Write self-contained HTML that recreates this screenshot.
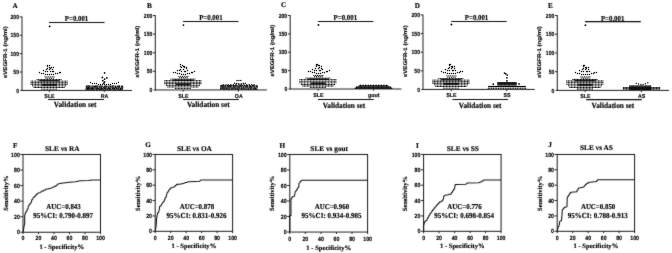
<!DOCTYPE html>
<html><head><meta charset="utf-8"><title>Figure</title>
<style>
html,body{margin:0;padding:0;background:#fff;}
body{width:672px;height:253px;overflow:hidden;font-family:"Liberation Sans",sans-serif;}
svg{display:block;}
.se{font-family:"Liberation Serif",serif;font-weight:bold;}
.sa{font-family:"Liberation Sans",sans-serif;font-weight:bold;}
text{fill:#000;text-rendering:geometricPrecision;stroke:#000;stroke-width:0.16px;stroke-linejoin:round;}
line,path,rect{stroke:#111;}
</style></head><body>
<svg width="672" height="253" viewBox="0 0 672 253">
<defs><filter id="b" filterUnits="userSpaceOnUse" x="-10" y="-10" width="692" height="273"><feConvolveMatrix order="3" kernelMatrix="0.015 0.065 0.015 0.065 0.6799999999999999 0.065 0.015 0.065 0.015" divisor="1" edgeMode="duplicate" preserveAlpha="false"/></filter><filter id="b2" filterUnits="userSpaceOnUse" x="-10" y="-10" width="692" height="273"><feConvolveMatrix order="3" kernelMatrix="0.008 0.04 0.008 0.04 0.8079999999999999 0.04 0.008 0.04 0.008" divisor="1" edgeMode="duplicate" preserveAlpha="false"/></filter></defs>
<rect x="0" y="0" width="672" height="253" style="fill:#fff;stroke:none"/>
<g filter="url(#b)">
<line x1="22.00" y1="16.60" x2="22.00" y2="90.95" stroke-width="0.95"/>
<line x1="20.40" y1="90.45" x2="132.00" y2="90.45" stroke-width="0.95"/>
<text class="sa" transform="translate(19.00 92.55) scale(0.86 1.0)" font-size="5.9" text-anchor="end">0</text>
<line x1="19.70" y1="72.06" x2="22.00" y2="72.06" stroke-width="0.9"/>
<text class="sa" transform="translate(19.00 74.16) scale(0.86 1.0)" font-size="5.9" text-anchor="end">50</text>
<line x1="19.70" y1="53.67" x2="22.00" y2="53.67" stroke-width="0.9"/>
<text class="sa" transform="translate(19.00 55.77) scale(0.86 1.0)" font-size="5.9" text-anchor="end">100</text>
<line x1="19.70" y1="35.29" x2="22.00" y2="35.29" stroke-width="0.9"/>
<text class="sa" transform="translate(19.00 37.39) scale(0.86 1.0)" font-size="5.9" text-anchor="end">150</text>
<line x1="19.70" y1="16.90" x2="22.00" y2="16.90" stroke-width="0.9"/>
<text class="sa" transform="translate(19.00 19.00) scale(0.86 1.0)" font-size="5.9" text-anchor="end">200</text>
<line x1="49.40" y1="90.45" x2="49.40" y2="92.15" stroke-width="0.9"/>
<line x1="104.30" y1="90.45" x2="104.30" y2="92.15" stroke-width="0.9"/>
<text class="sa" transform="translate(49.50 98.25) scale(0.95 1.0)" font-size="5.6" text-anchor="middle">SLE</text>
<text class="sa" transform="translate(104.60 98.25) scale(0.94 1.0)" font-size="5.6" text-anchor="middle">RA</text>
<text class="sa" transform="translate(6.70 52.15) rotate(-90) scale(1.155 1.0)" font-size="5.3" text-anchor="middle">sVEGFR-1 (ng/ml)</text>
<line x1="49.00" y1="22.45" x2="104.60" y2="22.45" stroke-width="1.1"/>
<text class="se" transform="translate(76.55 21.15) scale(0.9 1.0)" font-size="7.6" text-anchor="middle">P=0.001</text>
<line x1="48.10" y1="99.45" x2="104.00" y2="99.45" stroke-width="1.1"/>
<text class="se" transform="translate(75.15 107.00) scale(0.915 1.0)" font-size="8.0" text-anchor="middle">Validation set</text>
<line x1="39.20" y1="80.65" x2="59.40" y2="80.65" stroke-width="1.6"/>
<line x1="42.00" y1="84.85" x2="56.80" y2="84.85" stroke-width="2.0"/>
<line x1="155.30" y1="15.20" x2="155.30" y2="90.45" stroke-width="0.95"/>
<line x1="153.70" y1="89.95" x2="267.00" y2="89.95" stroke-width="0.95"/>
<text class="sa" transform="translate(152.30 92.05) scale(0.86 1.0)" font-size="5.9" text-anchor="end">0</text>
<line x1="153.00" y1="71.34" x2="155.30" y2="71.34" stroke-width="0.9"/>
<text class="sa" transform="translate(152.30 73.44) scale(0.86 1.0)" font-size="5.9" text-anchor="end">50</text>
<line x1="153.00" y1="52.73" x2="155.30" y2="52.73" stroke-width="0.9"/>
<text class="sa" transform="translate(152.30 54.83) scale(0.86 1.0)" font-size="5.9" text-anchor="end">100</text>
<line x1="153.00" y1="34.11" x2="155.30" y2="34.11" stroke-width="0.9"/>
<text class="sa" transform="translate(152.30 36.21) scale(0.86 1.0)" font-size="5.9" text-anchor="end">150</text>
<line x1="153.00" y1="15.50" x2="155.30" y2="15.50" stroke-width="0.9"/>
<text class="sa" transform="translate(152.30 17.60) scale(0.86 1.0)" font-size="5.9" text-anchor="end">200</text>
<line x1="183.20" y1="89.95" x2="183.20" y2="91.65" stroke-width="0.9"/>
<line x1="238.50" y1="89.95" x2="238.50" y2="91.65" stroke-width="0.9"/>
<text class="sa" transform="translate(183.30 97.75) scale(0.95 1.0)" font-size="5.6" text-anchor="middle">SLE</text>
<text class="sa" transform="translate(238.80 97.75) scale(0.94 1.0)" font-size="5.6" text-anchor="middle">OA</text>
<text class="sa" transform="translate(139.20 51.65) rotate(-90) scale(1.155 1.0)" font-size="5.3" text-anchor="middle">sVEGFR-1 (ng/ml)</text>
<line x1="183.00" y1="21.45" x2="238.50" y2="21.45" stroke-width="1.1"/>
<text class="se" transform="translate(210.90 20.15) scale(0.9 1.0)" font-size="7.6" text-anchor="middle">P=0.001</text>
<line x1="183.00" y1="99.50" x2="238.80" y2="99.50" stroke-width="1.1"/>
<text class="se" transform="translate(208.30 107.30) scale(0.915 1.0)" font-size="8.0" text-anchor="middle">Validation set</text>
<line x1="173.00" y1="80.15" x2="193.20" y2="80.15" stroke-width="1.6"/>
<line x1="175.80" y1="84.35" x2="190.60" y2="84.35" stroke-width="2.0"/>
<line x1="290.20" y1="15.20" x2="290.20" y2="89.50" stroke-width="0.95"/>
<line x1="288.60" y1="89.00" x2="401.40" y2="89.00" stroke-width="0.95"/>
<text class="sa" transform="translate(287.20 91.10) scale(0.86 1.0)" font-size="5.9" text-anchor="end">0</text>
<line x1="287.90" y1="70.62" x2="290.20" y2="70.62" stroke-width="0.9"/>
<text class="sa" transform="translate(287.20 72.72) scale(0.86 1.0)" font-size="5.9" text-anchor="end">50</text>
<line x1="287.90" y1="52.25" x2="290.20" y2="52.25" stroke-width="0.9"/>
<text class="sa" transform="translate(287.20 54.35) scale(0.86 1.0)" font-size="5.9" text-anchor="end">100</text>
<line x1="287.90" y1="33.88" x2="290.20" y2="33.88" stroke-width="0.9"/>
<text class="sa" transform="translate(287.20 35.98) scale(0.86 1.0)" font-size="5.9" text-anchor="end">150</text>
<line x1="287.90" y1="15.50" x2="290.20" y2="15.50" stroke-width="0.9"/>
<text class="sa" transform="translate(287.20 17.60) scale(0.86 1.0)" font-size="5.9" text-anchor="end">200</text>
<line x1="318.20" y1="89.00" x2="318.20" y2="90.70" stroke-width="0.9"/>
<line x1="373.50" y1="89.00" x2="373.50" y2="90.70" stroke-width="0.9"/>
<text class="sa" transform="translate(318.30 96.80) scale(0.95 1.0)" font-size="5.6" text-anchor="middle">SLE</text>
<text class="sa" transform="translate(373.80 96.80) scale(0.94 1.0)" font-size="5.6" text-anchor="middle">gout</text>
<text class="sa" transform="translate(274.10 50.70) rotate(-90) scale(1.155 1.0)" font-size="5.3" text-anchor="middle">sVEGFR-1 (ng/ml)</text>
<line x1="318.00" y1="21.45" x2="373.50" y2="21.45" stroke-width="1.1"/>
<text class="se" transform="translate(345.35 20.15) scale(0.9 1.0)" font-size="7.6" text-anchor="middle">P=0.001</text>
<line x1="318.00" y1="99.50" x2="373.80" y2="99.50" stroke-width="1.1"/>
<text class="se" transform="translate(343.95 107.50) scale(0.915 1.0)" font-size="8.0" text-anchor="middle">Validation set</text>
<line x1="308.00" y1="79.20" x2="328.20" y2="79.20" stroke-width="1.6"/>
<line x1="310.80" y1="83.40" x2="325.60" y2="83.40" stroke-width="2.0"/>
<line x1="423.00" y1="14.60" x2="423.00" y2="89.95" stroke-width="0.95"/>
<line x1="421.40" y1="89.45" x2="534.80" y2="89.45" stroke-width="0.95"/>
<text class="sa" transform="translate(420.00 91.55) scale(0.86 1.0)" font-size="5.9" text-anchor="end">0</text>
<line x1="420.70" y1="70.81" x2="423.00" y2="70.81" stroke-width="0.9"/>
<text class="sa" transform="translate(420.00 72.91) scale(0.86 1.0)" font-size="5.9" text-anchor="end">50</text>
<line x1="420.70" y1="52.18" x2="423.00" y2="52.18" stroke-width="0.9"/>
<text class="sa" transform="translate(420.00 54.28) scale(0.86 1.0)" font-size="5.9" text-anchor="end">100</text>
<line x1="420.70" y1="33.54" x2="423.00" y2="33.54" stroke-width="0.9"/>
<text class="sa" transform="translate(420.00 35.64) scale(0.86 1.0)" font-size="5.9" text-anchor="end">150</text>
<line x1="420.70" y1="14.90" x2="423.00" y2="14.90" stroke-width="0.9"/>
<text class="sa" transform="translate(420.00 17.00) scale(0.86 1.0)" font-size="5.9" text-anchor="end">200</text>
<line x1="451.20" y1="89.45" x2="451.20" y2="91.15" stroke-width="0.9"/>
<line x1="506.80" y1="89.45" x2="506.80" y2="91.15" stroke-width="0.9"/>
<text class="sa" transform="translate(451.30 97.25) scale(0.95 1.0)" font-size="5.6" text-anchor="middle">SLE</text>
<text class="sa" transform="translate(507.10 97.25) scale(0.94 1.0)" font-size="5.6" text-anchor="middle">SS</text>
<text class="sa" transform="translate(406.60 51.15) rotate(-90) scale(1.155 1.0)" font-size="5.3" text-anchor="middle">sVEGFR-1 (ng/ml)</text>
<line x1="451.20" y1="21.45" x2="506.70" y2="21.45" stroke-width="1.1"/>
<text class="se" transform="translate(476.55 20.15) scale(0.9 1.0)" font-size="7.6" text-anchor="middle">P=0.001</text>
<line x1="452.40" y1="99.50" x2="508.10" y2="99.50" stroke-width="1.1"/>
<text class="se" transform="translate(480.15 107.50) scale(0.915 1.0)" font-size="8.0" text-anchor="middle">Validation set</text>
<line x1="441.00" y1="79.65" x2="461.20" y2="79.65" stroke-width="1.6"/>
<line x1="443.80" y1="83.85" x2="458.60" y2="83.85" stroke-width="2.0"/>
<line x1="557.30" y1="15.20" x2="557.30" y2="90.90" stroke-width="0.95"/>
<line x1="555.70" y1="90.40" x2="669.10" y2="90.40" stroke-width="0.95"/>
<text class="sa" transform="translate(554.30 92.50) scale(0.86 1.0)" font-size="5.9" text-anchor="end">0</text>
<line x1="555.00" y1="71.68" x2="557.30" y2="71.68" stroke-width="0.9"/>
<text class="sa" transform="translate(554.30 73.78) scale(0.86 1.0)" font-size="5.9" text-anchor="end">50</text>
<line x1="555.00" y1="52.95" x2="557.30" y2="52.95" stroke-width="0.9"/>
<text class="sa" transform="translate(554.30 55.05) scale(0.86 1.0)" font-size="5.9" text-anchor="end">100</text>
<line x1="555.00" y1="34.22" x2="557.30" y2="34.22" stroke-width="0.9"/>
<text class="sa" transform="translate(554.30 36.32) scale(0.86 1.0)" font-size="5.9" text-anchor="end">150</text>
<line x1="555.00" y1="15.50" x2="557.30" y2="15.50" stroke-width="0.9"/>
<text class="sa" transform="translate(554.30 17.60) scale(0.86 1.0)" font-size="5.9" text-anchor="end">200</text>
<line x1="585.20" y1="90.40" x2="585.20" y2="92.10" stroke-width="0.9"/>
<line x1="641.40" y1="90.40" x2="641.40" y2="92.10" stroke-width="0.9"/>
<text class="sa" transform="translate(585.30 98.20) scale(0.95 1.0)" font-size="5.6" text-anchor="middle">SLE</text>
<text class="sa" transform="translate(641.70 98.20) scale(0.94 1.0)" font-size="5.6" text-anchor="middle">AS</text>
<text class="sa" transform="translate(541.20 52.10) rotate(-90) scale(1.155 1.0)" font-size="5.3" text-anchor="middle">sVEGFR-1 (ng/ml)</text>
<line x1="585.00" y1="21.62" x2="640.80" y2="21.62" stroke-width="1.35"/>
<text class="se" transform="translate(612.65 21.10) scale(0.9 1.0)" font-size="7.6" text-anchor="middle">P=0.001</text>
<line x1="586.20" y1="99.60" x2="641.80" y2="99.60" stroke-width="1.1"/>
<text class="se" transform="translate(612.90 107.50) scale(0.915 1.0)" font-size="8.0" text-anchor="middle">Validation set</text>
<line x1="575.00" y1="80.60" x2="595.20" y2="80.60" stroke-width="1.6"/>
<line x1="577.80" y1="84.80" x2="592.60" y2="84.80" stroke-width="2.0"/>
<text class="se" x="15.10" y="7.70" font-size="7.2" text-anchor="middle">A</text>
<text class="se" x="149.50" y="7.70" font-size="7.2" text-anchor="middle">B</text>
<text class="se" x="283.60" y="7.40" font-size="7.2" text-anchor="middle">C</text>
<text class="se" x="417.30" y="7.70" font-size="7.2" text-anchor="middle">D</text>
<text class="se" x="550.30" y="7.70" font-size="7.2" text-anchor="middle">E</text>
<rect x="23.00" y="154.45" width="77.50" height="77.80" fill="none" stroke-width="0.95"/>
<line x1="20.30" y1="232.25" x2="23.00" y2="232.25" stroke-width="0.9"/>
<text class="sa" transform="translate(19.80 234.35) scale(0.87 1.0)" font-size="6.0" text-anchor="end">0</text>
<line x1="23.00" y1="232.25" x2="23.00" y2="234.15" stroke-width="0.9"/>
<text class="sa" transform="translate(23.00 240.40) scale(0.87 1.0)" font-size="6.0" text-anchor="middle">0</text>
<line x1="20.30" y1="216.69" x2="23.00" y2="216.69" stroke-width="0.9"/>
<text class="sa" transform="translate(19.80 218.79) scale(0.87 1.0)" font-size="6.0" text-anchor="end">20</text>
<line x1="38.50" y1="232.25" x2="38.50" y2="234.15" stroke-width="0.9"/>
<text class="sa" transform="translate(38.50 240.40) scale(0.87 1.0)" font-size="6.0" text-anchor="middle">20</text>
<line x1="20.30" y1="201.13" x2="23.00" y2="201.13" stroke-width="0.9"/>
<text class="sa" transform="translate(19.80 203.23) scale(0.87 1.0)" font-size="6.0" text-anchor="end">40</text>
<line x1="54.00" y1="232.25" x2="54.00" y2="234.15" stroke-width="0.9"/>
<text class="sa" transform="translate(54.00 240.40) scale(0.87 1.0)" font-size="6.0" text-anchor="middle">40</text>
<line x1="20.30" y1="185.57" x2="23.00" y2="185.57" stroke-width="0.9"/>
<text class="sa" transform="translate(19.80 187.67) scale(0.87 1.0)" font-size="6.0" text-anchor="end">60</text>
<line x1="69.50" y1="232.25" x2="69.50" y2="234.15" stroke-width="0.9"/>
<text class="sa" transform="translate(69.50 240.40) scale(0.87 1.0)" font-size="6.0" text-anchor="middle">60</text>
<line x1="20.30" y1="170.01" x2="23.00" y2="170.01" stroke-width="0.9"/>
<text class="sa" transform="translate(19.80 172.11) scale(0.87 1.0)" font-size="6.0" text-anchor="end">80</text>
<line x1="85.00" y1="232.25" x2="85.00" y2="234.15" stroke-width="0.9"/>
<text class="sa" transform="translate(85.00 240.40) scale(0.87 1.0)" font-size="6.0" text-anchor="middle">80</text>
<line x1="20.30" y1="154.45" x2="23.00" y2="154.45" stroke-width="0.9"/>
<text class="sa" transform="translate(19.80 156.55) scale(0.87 1.0)" font-size="6.0" text-anchor="end">100</text>
<line x1="100.50" y1="232.25" x2="100.50" y2="234.15" stroke-width="0.9"/>
<text class="sa" transform="translate(100.50 240.40) scale(0.87 1.0)" font-size="6.0" text-anchor="middle">100</text>
<text class="se" x="62.25" y="150.90" font-size="7.3" text-anchor="middle">SLE vs RA</text>
<text class="se" transform="translate(63.55 209.20) scale(0.92 1.0)" font-size="7.5" text-anchor="middle">AUC=0.843</text>
<text class="se" transform="translate(63.15 217.70) scale(0.92 1.0)" font-size="7.65" text-anchor="middle">95%CI: 0.790-0.897</text>
<text class="se" x="61.75" y="249.15" font-size="6.6" text-anchor="middle">1 - Specificity%</text>
<text class="se" transform="translate(7.50 193.10) rotate(-90)" font-size="6.45" text-anchor="middle">Sensitivity%</text>
<text class="se" x="15.20" y="148.10" font-size="7.2" text-anchor="middle">F</text>
<path d="M23.00 232.25 L23.46 229.92 L23.93 226.80 L24.70 223.23 L24.70 215.52 L25.64 212.49 L25.79 211.96 L26.25 211.87 L26.41 211.34 L26.88 211.24 L27.17 209.33 L28.04 208.99 L28.33 205.88 L29.20 205.33 L29.42 204.34 L30.09 204.16 L30.31 203.17 L30.98 203.00 L31.60 201.05 L31.90 199.53 L32.80 199.26 L33.10 197.74 L34.00 197.47 L34.30 196.46 L35.19 196.28 L35.49 195.27 L36.38 195.09 L36.68 194.07 L37.57 193.89 L38.15 192.90 L39.89 192.73 L40.34 191.97 L41.68 191.83 L42.12 191.07 L43.46 190.94 L43.98 190.08 L45.55 189.93 L46.08 189.07 L47.64 188.92 L51.75 187.98 L52.28 187.22 L53.84 187.09 L54.37 186.33 L55.94 186.19 L56.31 185.17 L57.41 184.99 L57.78 183.96 L58.88 183.78 L61.28 183.24 L69.58 182.22 L75.54 181.76 L80.27 180.82 L88.64 180.51 L92.13 180.05 L100.50 180.05" fill="none" stroke-width="1.05" stroke-linejoin="round"/>
<rect x="155.20" y="154.45" width="77.40" height="76.85" fill="none" stroke-width="0.95"/>
<line x1="152.50" y1="231.30" x2="155.20" y2="231.30" stroke-width="0.9"/>
<text class="sa" transform="translate(152.00 233.40) scale(0.87 1.0)" font-size="6.0" text-anchor="end">0</text>
<line x1="155.20" y1="231.30" x2="155.20" y2="233.20" stroke-width="0.9"/>
<text class="sa" transform="translate(155.20 239.61) scale(0.87 1.0)" font-size="6.0" text-anchor="middle">0</text>
<line x1="152.50" y1="215.93" x2="155.20" y2="215.93" stroke-width="0.9"/>
<text class="sa" transform="translate(152.00 218.03) scale(0.87 1.0)" font-size="6.0" text-anchor="end">20</text>
<line x1="170.68" y1="231.30" x2="170.68" y2="233.20" stroke-width="0.9"/>
<text class="sa" transform="translate(170.68 239.61) scale(0.87 1.0)" font-size="6.0" text-anchor="middle">20</text>
<line x1="152.50" y1="200.56" x2="155.20" y2="200.56" stroke-width="0.9"/>
<text class="sa" transform="translate(152.00 202.66) scale(0.87 1.0)" font-size="6.0" text-anchor="end">40</text>
<line x1="186.16" y1="231.30" x2="186.16" y2="233.20" stroke-width="0.9"/>
<text class="sa" transform="translate(186.16 239.61) scale(0.87 1.0)" font-size="6.0" text-anchor="middle">40</text>
<line x1="152.50" y1="185.19" x2="155.20" y2="185.19" stroke-width="0.9"/>
<text class="sa" transform="translate(152.00 187.29) scale(0.87 1.0)" font-size="6.0" text-anchor="end">60</text>
<line x1="201.64" y1="231.30" x2="201.64" y2="233.20" stroke-width="0.9"/>
<text class="sa" transform="translate(201.64 239.61) scale(0.87 1.0)" font-size="6.0" text-anchor="middle">60</text>
<line x1="152.50" y1="169.82" x2="155.20" y2="169.82" stroke-width="0.9"/>
<text class="sa" transform="translate(152.00 171.92) scale(0.87 1.0)" font-size="6.0" text-anchor="end">80</text>
<line x1="217.12" y1="231.30" x2="217.12" y2="233.20" stroke-width="0.9"/>
<text class="sa" transform="translate(217.12 239.61) scale(0.87 1.0)" font-size="6.0" text-anchor="middle">80</text>
<line x1="152.50" y1="154.45" x2="155.20" y2="154.45" stroke-width="0.9"/>
<text class="sa" transform="translate(152.00 156.55) scale(0.87 1.0)" font-size="6.0" text-anchor="end">100</text>
<line x1="232.60" y1="231.30" x2="232.60" y2="233.20" stroke-width="0.9"/>
<text class="sa" transform="translate(232.60 239.61) scale(0.87 1.0)" font-size="6.0" text-anchor="middle">100</text>
<text class="se" x="194.40" y="150.90" font-size="7.3" text-anchor="middle">SLE vs OA</text>
<text class="se" transform="translate(196.90 209.20) scale(0.92 1.0)" font-size="7.5" text-anchor="middle">AUC=0.878</text>
<text class="se" transform="translate(196.50 217.70) scale(0.92 1.0)" font-size="7.65" text-anchor="middle">95%CI: 0.831-0.926</text>
<text class="se" x="193.90" y="248.40" font-size="6.6" text-anchor="middle">1 - Specificity%</text>
<text class="se" transform="translate(139.70 193.40) rotate(-90)" font-size="6.45" text-anchor="middle">Sensitivity%</text>
<text class="se" x="148.00" y="147.20" font-size="7.2" text-anchor="middle">G</text>
<path d="M155.20 231.30 L156.13 225.61 L156.59 218.54 L157.29 214.93 L157.60 212.91 L158.53 212.55 L159.38 209.01 L159.67 206.47 L160.54 206.02 L161.39 205.25 L162.32 203.02 L162.54 202.43 L163.21 202.33 L163.43 201.74 L164.10 201.64 L164.32 199.87 L164.99 199.56 L165.21 197.80 L165.88 197.49 L166.89 193.95 L167.11 192.78 L167.76 192.57 L167.98 191.39 L168.64 191.18 L168.86 190.01 L169.52 189.80 L169.82 188.85 L170.72 188.69 L171.02 187.74 L171.92 187.57 L174.78 186.80 L175.09 185.63 L176.02 185.42 L176.91 184.38 L179.58 184.19 L184.38 183.19 L185.05 182.57 L187.05 182.46 L187.72 181.84 L189.72 181.73 L199.78 181.19 L200.25 180.15 L201.64 179.96 L232.60 179.96" fill="none" stroke-width="1.05" stroke-linejoin="round"/>
<rect x="289.80" y="154.45" width="77.80" height="77.60" fill="none" stroke-width="0.95"/>
<line x1="287.10" y1="232.05" x2="289.80" y2="232.05" stroke-width="0.9"/>
<text class="sa" transform="translate(286.60 234.15) scale(0.87 1.0)" font-size="6.0" text-anchor="end">0</text>
<line x1="289.80" y1="232.05" x2="289.80" y2="233.95" stroke-width="0.9"/>
<text class="sa" transform="translate(289.80 240.68) scale(0.87 1.0)" font-size="6.0" text-anchor="middle">0</text>
<line x1="287.10" y1="216.53" x2="289.80" y2="216.53" stroke-width="0.9"/>
<text class="sa" transform="translate(286.60 218.63) scale(0.87 1.0)" font-size="6.0" text-anchor="end">20</text>
<line x1="305.36" y1="232.05" x2="305.36" y2="233.95" stroke-width="0.9"/>
<text class="sa" transform="translate(305.36 240.68) scale(0.87 1.0)" font-size="6.0" text-anchor="middle">20</text>
<line x1="287.10" y1="201.01" x2="289.80" y2="201.01" stroke-width="0.9"/>
<text class="sa" transform="translate(286.60 203.11) scale(0.87 1.0)" font-size="6.0" text-anchor="end">40</text>
<line x1="320.92" y1="232.05" x2="320.92" y2="233.95" stroke-width="0.9"/>
<text class="sa" transform="translate(320.92 240.68) scale(0.87 1.0)" font-size="6.0" text-anchor="middle">40</text>
<line x1="287.10" y1="185.49" x2="289.80" y2="185.49" stroke-width="0.9"/>
<text class="sa" transform="translate(286.60 187.59) scale(0.87 1.0)" font-size="6.0" text-anchor="end">60</text>
<line x1="336.48" y1="232.05" x2="336.48" y2="233.95" stroke-width="0.9"/>
<text class="sa" transform="translate(336.48 240.68) scale(0.87 1.0)" font-size="6.0" text-anchor="middle">60</text>
<line x1="287.10" y1="169.97" x2="289.80" y2="169.97" stroke-width="0.9"/>
<text class="sa" transform="translate(286.60 172.07) scale(0.87 1.0)" font-size="6.0" text-anchor="end">80</text>
<line x1="352.04" y1="232.05" x2="352.04" y2="233.95" stroke-width="0.9"/>
<text class="sa" transform="translate(352.04 240.68) scale(0.87 1.0)" font-size="6.0" text-anchor="middle">80</text>
<line x1="287.10" y1="154.45" x2="289.80" y2="154.45" stroke-width="0.9"/>
<text class="sa" transform="translate(286.60 156.55) scale(0.87 1.0)" font-size="6.0" text-anchor="end">100</text>
<line x1="367.60" y1="232.05" x2="367.60" y2="233.95" stroke-width="0.9"/>
<text class="sa" transform="translate(367.60 240.68) scale(0.87 1.0)" font-size="6.0" text-anchor="middle">100</text>
<text class="se" x="329.20" y="150.90" font-size="7.3" text-anchor="middle">SLE vs gout</text>
<text class="se" transform="translate(331.90 209.20) scale(0.92 1.0)" font-size="7.5" text-anchor="middle">AUC=0.960</text>
<text class="se" transform="translate(331.50 217.70) scale(0.92 1.0)" font-size="7.65" text-anchor="middle">95%CI: 0.934-0.985</text>
<text class="se" x="328.70" y="249.55" font-size="6.6" text-anchor="middle">1 - Specificity%</text>
<text class="se" transform="translate(274.30 193.40) rotate(-90)" font-size="6.45" text-anchor="middle">Sensitivity%</text>
<text class="se" x="282.40" y="147.80" font-size="7.2" text-anchor="middle">H</text>
<path d="M289.80 232.05 L289.80 215.52 L290.97 215.52 L290.97 199.85 L291.12 198.82 L291.59 198.64 L291.75 197.62 L292.21 197.44 L292.78 196.45 L294.47 196.28 L295.09 192.78 L295.39 191.27 L296.30 191.00 L296.60 189.48 L297.50 189.21 L297.79 187.70 L298.67 187.43 L298.98 183.34 L299.91 182.62 L300.18 181.63 L300.96 181.45 L301.23 180.47 L302.01 180.29 L367.60 180.29" fill="none" stroke-width="1.05" stroke-linejoin="round"/>
<rect x="423.60" y="154.45" width="77.50" height="76.85" fill="none" stroke-width="0.95"/>
<line x1="420.90" y1="231.30" x2="423.60" y2="231.30" stroke-width="0.9"/>
<text class="sa" transform="translate(420.40 233.40) scale(0.87 1.0)" font-size="6.0" text-anchor="end">0</text>
<line x1="423.60" y1="231.30" x2="423.60" y2="233.20" stroke-width="0.9"/>
<text class="sa" transform="translate(423.60 239.61) scale(0.87 1.0)" font-size="6.0" text-anchor="middle">0</text>
<line x1="420.90" y1="215.93" x2="423.60" y2="215.93" stroke-width="0.9"/>
<text class="sa" transform="translate(420.40 218.03) scale(0.87 1.0)" font-size="6.0" text-anchor="end">20</text>
<line x1="439.10" y1="231.30" x2="439.10" y2="233.20" stroke-width="0.9"/>
<text class="sa" transform="translate(439.10 239.61) scale(0.87 1.0)" font-size="6.0" text-anchor="middle">20</text>
<line x1="420.90" y1="200.56" x2="423.60" y2="200.56" stroke-width="0.9"/>
<text class="sa" transform="translate(420.40 202.66) scale(0.87 1.0)" font-size="6.0" text-anchor="end">40</text>
<line x1="454.60" y1="231.30" x2="454.60" y2="233.20" stroke-width="0.9"/>
<text class="sa" transform="translate(454.60 239.61) scale(0.87 1.0)" font-size="6.0" text-anchor="middle">40</text>
<line x1="420.90" y1="185.19" x2="423.60" y2="185.19" stroke-width="0.9"/>
<text class="sa" transform="translate(420.40 187.29) scale(0.87 1.0)" font-size="6.0" text-anchor="end">60</text>
<line x1="470.10" y1="231.30" x2="470.10" y2="233.20" stroke-width="0.9"/>
<text class="sa" transform="translate(470.10 239.61) scale(0.87 1.0)" font-size="6.0" text-anchor="middle">60</text>
<line x1="420.90" y1="169.82" x2="423.60" y2="169.82" stroke-width="0.9"/>
<text class="sa" transform="translate(420.40 171.92) scale(0.87 1.0)" font-size="6.0" text-anchor="end">80</text>
<line x1="485.60" y1="231.30" x2="485.60" y2="233.20" stroke-width="0.9"/>
<text class="sa" transform="translate(485.60 239.61) scale(0.87 1.0)" font-size="6.0" text-anchor="middle">80</text>
<line x1="420.90" y1="154.45" x2="423.60" y2="154.45" stroke-width="0.9"/>
<text class="sa" transform="translate(420.40 156.55) scale(0.87 1.0)" font-size="6.0" text-anchor="end">100</text>
<line x1="501.10" y1="231.30" x2="501.10" y2="233.20" stroke-width="0.9"/>
<text class="sa" transform="translate(501.10 239.61) scale(0.87 1.0)" font-size="6.0" text-anchor="middle">100</text>
<text class="se" x="462.85" y="150.90" font-size="7.3" text-anchor="middle">SLE vs SS</text>
<text class="se" transform="translate(464.55 209.20) scale(0.92 1.0)" font-size="7.5" text-anchor="middle">AUC=0.776</text>
<text class="se" transform="translate(464.15 217.70) scale(0.92 1.0)" font-size="7.65" text-anchor="middle">95%CI: 0.698-0.854</text>
<text class="se" x="462.35" y="248.40" font-size="6.6" text-anchor="middle">1 - Specificity%</text>
<text class="se" transform="translate(407.00 193.70) rotate(-90)" font-size="6.45" text-anchor="middle">Sensitivity%</text>
<text class="se" x="417.30" y="147.80" font-size="7.2" text-anchor="middle">I</text>
<path d="M423.60 231.30 L423.60 225.92 L424.38 222.62 L424.68 221.64 L425.58 221.46 L425.88 220.48 L426.78 220.31 L427.00 219.04 L427.67 218.81 L427.89 217.54 L428.56 217.31 L428.86 215.55 L429.76 215.24 L430.06 213.47 L430.96 213.16 L431.21 211.99 L431.94 211.78 L432.19 210.60 L432.93 210.40 L433.17 209.22 L433.91 209.01 L434.15 208.06 L434.89 207.89 L435.13 206.93 L435.87 206.76 L436.12 205.80 L436.85 205.63 L437.15 204.46 L438.05 204.25 L438.35 203.07 L439.25 202.87 L439.62 202.08 L440.73 201.94 L441.10 201.16 L442.20 201.02 L442.36 200.27 L442.82 200.14 L442.98 199.39 L443.44 199.25 L443.73 196.25 L444.60 195.72 L445.43 195.07 L447.90 194.95 L448.72 194.30 L451.19 194.18 L451.48 192.48 L452.35 192.18 L452.60 190.91 L453.36 190.68 L453.61 189.41 L454.37 189.19 L455.38 184.42 L466.07 184.19 L466.29 183.67 L466.96 183.58 L467.18 183.05 L467.85 182.96 L478.55 182.65 L481.57 181.81 L481.94 181.06 L483.04 180.92 L483.41 180.17 L484.51 180.04 L501.10 180.04" fill="none" stroke-width="1.05" stroke-linejoin="round"/>
<rect x="557.20" y="154.45" width="77.40" height="76.85" fill="none" stroke-width="0.95"/>
<line x1="554.50" y1="231.30" x2="557.20" y2="231.30" stroke-width="0.9"/>
<text class="sa" transform="translate(554.00 233.40) scale(0.87 1.0)" font-size="6.0" text-anchor="end">0</text>
<line x1="557.20" y1="231.30" x2="557.20" y2="233.20" stroke-width="0.9"/>
<text class="sa" transform="translate(557.20 239.61) scale(0.87 1.0)" font-size="6.0" text-anchor="middle">0</text>
<line x1="554.50" y1="215.93" x2="557.20" y2="215.93" stroke-width="0.9"/>
<text class="sa" transform="translate(554.00 218.03) scale(0.87 1.0)" font-size="6.0" text-anchor="end">20</text>
<line x1="572.68" y1="231.30" x2="572.68" y2="233.20" stroke-width="0.9"/>
<text class="sa" transform="translate(572.68 239.61) scale(0.87 1.0)" font-size="6.0" text-anchor="middle">20</text>
<line x1="554.50" y1="200.56" x2="557.20" y2="200.56" stroke-width="0.9"/>
<text class="sa" transform="translate(554.00 202.66) scale(0.87 1.0)" font-size="6.0" text-anchor="end">40</text>
<line x1="588.16" y1="231.30" x2="588.16" y2="233.20" stroke-width="0.9"/>
<text class="sa" transform="translate(588.16 239.61) scale(0.87 1.0)" font-size="6.0" text-anchor="middle">40</text>
<line x1="554.50" y1="185.19" x2="557.20" y2="185.19" stroke-width="0.9"/>
<text class="sa" transform="translate(554.00 187.29) scale(0.87 1.0)" font-size="6.0" text-anchor="end">60</text>
<line x1="603.64" y1="231.30" x2="603.64" y2="233.20" stroke-width="0.9"/>
<text class="sa" transform="translate(603.64 239.61) scale(0.87 1.0)" font-size="6.0" text-anchor="middle">60</text>
<line x1="554.50" y1="169.82" x2="557.20" y2="169.82" stroke-width="0.9"/>
<text class="sa" transform="translate(554.00 171.92) scale(0.87 1.0)" font-size="6.0" text-anchor="end">80</text>
<line x1="619.12" y1="231.30" x2="619.12" y2="233.20" stroke-width="0.9"/>
<text class="sa" transform="translate(619.12 239.61) scale(0.87 1.0)" font-size="6.0" text-anchor="middle">80</text>
<line x1="554.50" y1="154.45" x2="557.20" y2="154.45" stroke-width="0.9"/>
<text class="sa" transform="translate(554.00 156.55) scale(0.87 1.0)" font-size="6.0" text-anchor="end">100</text>
<line x1="634.60" y1="231.30" x2="634.60" y2="233.20" stroke-width="0.9"/>
<text class="sa" transform="translate(634.60 239.61) scale(0.87 1.0)" font-size="6.0" text-anchor="middle">100</text>
<text class="se" x="596.40" y="150.40" font-size="7.3" text-anchor="middle">SLE vs AS</text>
<text class="se" transform="translate(598.10 209.20) scale(0.92 1.0)" font-size="7.5" text-anchor="middle">AUC=0.850</text>
<text class="se" transform="translate(597.70 217.70) scale(0.92 1.0)" font-size="7.65" text-anchor="middle">95%CI: 0.788-0.913</text>
<text class="se" x="595.90" y="248.40" font-size="6.6" text-anchor="middle">1 - Specificity%</text>
<text class="se" transform="translate(541.70 193.40) rotate(-90)" font-size="6.45" text-anchor="middle">Sensitivity%</text>
<text class="se" x="550.00" y="147.20" font-size="7.2" text-anchor="middle">J</text>
<path d="M557.20 231.30 L557.82 228.61 L558.11 226.59 L558.98 226.23 L559.60 222.08 L560.04 221.03 L561.38 220.85 L562.00 214.93 L562.29 209.90 L563.16 209.01 L563.38 208.26 L564.05 208.13 L564.27 207.38 L564.94 207.25 L566.95 206.63 L567.26 198.10 L567.49 196.83 L568.19 196.60 L568.42 195.33 L569.12 195.10 L569.38 193.86 L570.16 193.64 L570.43 192.40 L571.21 192.18 L576.78 191.80 L577.08 190.17 L577.98 189.88 L578.28 188.24 L579.18 187.96 L583.98 187.03 L584.28 185.83 L585.18 185.61 L585.48 184.40 L586.38 184.19 L586.82 183.37 L588.12 183.23 L588.56 182.41 L589.86 182.27 L596.52 181.50 L596.74 180.75 L597.41 180.62 L597.63 179.87 L598.30 179.73 L634.60 179.73" fill="none" stroke-width="1.05" stroke-linejoin="round"/>
</g>
<g>
<path d="M41.60 89.05h0M43.10 89.05h0M44.60 89.05h0M46.10 89.05h0M47.60 89.05h0M49.10 89.05h0M50.60 89.05h0M52.10 89.05h0M53.60 89.05h0M55.10 89.05h0M56.60 89.05h0M34.10 87.45h0M35.60 87.45h0M37.10 87.45h0M38.60 87.45h0M40.10 87.45h0M41.60 87.45h0M43.10 87.45h0M44.60 87.45h0M46.10 87.45h0M47.60 87.45h0M49.10 87.45h0M50.60 87.45h0M52.10 87.45h0M53.60 87.45h0M55.10 87.45h0M56.60 87.45h0M58.10 87.45h0M59.60 87.45h0M61.10 87.45h0M62.60 87.45h0M64.10 87.45h0M32.60 85.85h0M34.10 85.85h0M35.60 85.85h0M37.10 85.85h0M38.60 85.85h0M40.10 85.85h0M41.60 85.85h0M43.10 85.85h0M44.60 85.85h0M46.10 85.85h0M47.60 85.85h0M49.10 85.85h0M50.60 85.85h0M52.10 85.85h0M53.60 85.85h0M55.10 85.85h0M56.60 85.85h0M58.10 85.85h0M59.60 85.85h0M61.10 85.85h0M62.60 85.85h0M64.10 85.85h0M65.60 85.85h0M31.10 84.25h0M32.60 84.25h0M34.10 84.25h0M35.60 84.25h0M37.10 84.25h0M38.60 84.25h0M40.10 84.25h0M41.60 84.25h0M43.10 84.25h0M44.60 84.25h0M46.10 84.25h0M47.60 84.25h0M49.10 84.25h0M50.60 84.25h0M52.10 84.25h0M53.60 84.25h0M55.10 84.25h0M56.60 84.25h0M58.10 84.25h0M59.60 84.25h0M61.10 84.25h0M62.60 84.25h0M64.10 84.25h0M65.60 84.25h0M67.10 84.25h0M31.10 82.65h0M32.60 82.65h0M34.10 82.65h0M35.60 82.65h0M37.10 82.65h0M38.60 82.65h0M40.10 82.65h0M41.60 82.65h0M43.10 82.65h0M44.60 82.65h0M46.10 82.65h0M47.60 82.65h0M49.10 82.65h0M50.60 82.65h0M52.10 82.65h0M53.60 82.65h0M55.10 82.65h0M56.60 82.65h0M58.10 82.65h0M59.60 82.65h0M61.10 82.65h0M62.60 82.65h0M64.10 82.65h0M65.60 82.65h0M67.10 82.65h0M31.10 81.05h0M32.60 81.05h0M34.10 81.05h0M35.60 81.05h0M37.10 81.05h0M38.60 81.05h0M40.10 81.05h0M41.60 81.05h0M43.10 81.05h0M44.60 81.05h0M46.10 81.05h0M47.60 81.05h0M49.10 81.05h0M50.60 81.05h0M52.10 81.05h0M53.60 81.05h0M55.10 81.05h0M56.60 81.05h0M58.10 81.05h0M59.60 81.05h0M61.10 81.05h0M62.60 81.05h0M64.10 81.05h0M65.60 81.05h0M67.10 81.05h0M37.10 79.55h0M38.60 79.55h0M40.10 79.55h0M41.60 79.55h0M43.10 79.55h0M44.60 79.55h0M46.10 79.55h0M47.60 79.55h0M49.10 79.55h0M50.60 79.55h0M52.10 79.55h0M53.60 79.55h0M55.10 79.55h0M56.60 79.55h0M58.10 79.55h0M59.60 79.55h0M61.10 79.55h0M45.10 76.85h0M46.90 76.85h0M48.70 76.85h0M50.50 76.85h0M52.30 76.85h0M54.10 76.85h0M46.00 78.15h0M47.80 78.15h0M49.60 78.15h0M51.40 78.15h0M53.20 78.15h0" stroke-width="1.28" stroke-linecap="round" fill="none"/>
<path d="M47.50 65.50h0M49.50 65.50h0M47.50 66.50h0M49.50 67.50h0M51.50 67.50h0M47.50 68.50h0M50.50 68.50h0M53.50 67.50h0M46.50 69.50h0M49.50 69.50h0M52.50 69.50h0M43.50 70.50h0M45.50 71.50h0M47.50 71.50h0M50.50 71.50h0M52.50 71.50h0M53.50 71.50h0M39.50 72.50h0M41.50 73.50h0M43.50 73.50h0M45.50 74.50h0M47.50 74.50h0M49.50 74.50h0M51.50 74.50h0M53.50 74.50h0M55.50 73.50h0M57.50 73.50h0M59.50 72.50h0M60.50 72.50h0" stroke-width="1.44" stroke-linecap="round" fill="none"/>
<path d="M49.65 26.39h0" stroke-width="1.90" stroke-linecap="round" fill="none"/>
<path d="M90.50 82.50h0M92.50 83.50h0M94.50 83.50h0M96.50 83.50h0M98.50 84.50h0M100.50 84.50h0M102.50 84.50h0M104.50 84.50h0M106.50 84.50h0M108.50 84.50h0M110.50 84.50h0M112.50 83.50h0M114.50 83.50h0M116.50 83.50h0M118.50 82.50h0" stroke-width="1.32" stroke-linecap="round" fill="none"/>
<path d="M85.99 89.57h0M87.49 89.55h0M88.72 89.62h0M89.73 89.65h0M91.02 89.63h0M92.34 89.55h0M93.85 89.73h0M94.97 89.58h0M96.58 89.76h0M97.85 89.63h0M99.39 89.54h0M100.62 89.60h0M101.49 89.56h0M102.89 89.73h0M104.11 89.67h0M105.68 89.62h0M106.93 89.55h0M107.94 89.58h0M109.61 89.63h0M110.69 89.67h0M112.07 89.60h0M113.58 89.70h0M114.55 89.67h0M116.02 89.74h0M117.44 89.60h0M118.89 89.56h0M119.85 89.71h0M120.99 89.65h0M122.22 89.69h0M86.26 88.47h0M87.63 88.41h0M88.82 88.47h0M90.05 88.44h0M91.50 88.56h0M92.58 88.49h0M93.64 88.50h0M95.29 88.57h0M96.69 88.40h0M97.73 88.49h0M98.81 88.44h0M100.20 88.36h0M101.44 88.51h0M102.78 88.39h0M104.23 88.54h0M105.35 88.44h0M106.93 88.54h0M108.39 88.54h0M109.37 88.43h0M110.72 88.54h0M112.37 88.37h0M113.21 88.39h0M114.54 88.45h0M116.05 88.39h0M117.00 88.43h0M118.52 88.47h0M120.17 88.50h0M121.21 88.48h0M122.61 88.34h0M86.34 87.32h0M87.62 87.32h0M88.64 87.23h0M89.76 87.28h0M91.04 87.15h0M92.43 87.17h0M93.80 87.14h0M94.90 87.17h0M96.26 87.22h0M97.52 87.34h0M99.17 87.17h0M100.25 87.21h0M101.62 87.16h0M103.21 87.37h0M104.28 87.25h0M105.35 87.15h0M106.81 87.19h0M108.40 87.17h0M109.21 87.36h0M110.82 87.17h0M112.13 87.14h0M113.42 87.36h0M114.92 87.30h0M115.86 87.22h0M117.10 87.32h0M118.62 87.32h0M119.80 87.18h0M121.39 87.37h0M122.71 87.32h0M86.29 86.11h0M87.24 86.05h0M88.61 85.94h0M89.72 86.00h0M91.16 86.10h0M92.87 86.04h0M94.16 86.17h0M95.47 86.02h0M96.33 85.98h0M97.62 85.98h0M99.17 86.15h0M100.60 86.05h0M101.79 86.12h0M102.75 86.09h0M104.55 86.12h0M105.75 86.04h0M106.71 86.12h0M108.10 86.12h0M109.78 86.03h0M110.74 86.16h0M112.23 85.97h0M113.18 85.97h0M114.94 86.12h0M115.79 86.13h0M117.59 86.09h0M118.51 86.06h0M119.68 85.93h0M121.48 86.09h0M122.52 86.15h0" stroke-width="1.40" stroke-linecap="round" fill="none"/>
<path d="M104.60 72.95h0M102.40 77.45h0M106.80 77.95h0M104.60 79.15h0M102.80 80.65h0M104.60 81.85h0M103.80 83.25h0" stroke-width="1.80" stroke-linecap="round" fill="none"/>
<path d="M175.40 88.55h0M176.90 88.55h0M178.40 88.55h0M179.90 88.55h0M181.40 88.55h0M182.90 88.55h0M184.40 88.55h0M185.90 88.55h0M187.40 88.55h0M188.90 88.55h0M190.40 88.55h0M167.90 86.95h0M169.40 86.95h0M170.90 86.95h0M172.40 86.95h0M173.90 86.95h0M175.40 86.95h0M176.90 86.95h0M178.40 86.95h0M179.90 86.95h0M181.40 86.95h0M182.90 86.95h0M184.40 86.95h0M185.90 86.95h0M187.40 86.95h0M188.90 86.95h0M190.40 86.95h0M191.90 86.95h0M193.40 86.95h0M194.90 86.95h0M196.40 86.95h0M197.90 86.95h0M166.40 85.35h0M167.90 85.35h0M169.40 85.35h0M170.90 85.35h0M172.40 85.35h0M173.90 85.35h0M175.40 85.35h0M176.90 85.35h0M178.40 85.35h0M179.90 85.35h0M181.40 85.35h0M182.90 85.35h0M184.40 85.35h0M185.90 85.35h0M187.40 85.35h0M188.90 85.35h0M190.40 85.35h0M191.90 85.35h0M193.40 85.35h0M194.90 85.35h0M196.40 85.35h0M197.90 85.35h0M199.40 85.35h0M164.90 83.75h0M166.40 83.75h0M167.90 83.75h0M169.40 83.75h0M170.90 83.75h0M172.40 83.75h0M173.90 83.75h0M175.40 83.75h0M176.90 83.75h0M178.40 83.75h0M179.90 83.75h0M181.40 83.75h0M182.90 83.75h0M184.40 83.75h0M185.90 83.75h0M187.40 83.75h0M188.90 83.75h0M190.40 83.75h0M191.90 83.75h0M193.40 83.75h0M194.90 83.75h0M196.40 83.75h0M197.90 83.75h0M199.40 83.75h0M200.90 83.75h0M164.90 82.15h0M166.40 82.15h0M167.90 82.15h0M169.40 82.15h0M170.90 82.15h0M172.40 82.15h0M173.90 82.15h0M175.40 82.15h0M176.90 82.15h0M178.40 82.15h0M179.90 82.15h0M181.40 82.15h0M182.90 82.15h0M184.40 82.15h0M185.90 82.15h0M187.40 82.15h0M188.90 82.15h0M190.40 82.15h0M191.90 82.15h0M193.40 82.15h0M194.90 82.15h0M196.40 82.15h0M197.90 82.15h0M199.40 82.15h0M200.90 82.15h0M164.90 80.55h0M166.40 80.55h0M167.90 80.55h0M169.40 80.55h0M170.90 80.55h0M172.40 80.55h0M173.90 80.55h0M175.40 80.55h0M176.90 80.55h0M178.40 80.55h0M179.90 80.55h0M181.40 80.55h0M182.90 80.55h0M184.40 80.55h0M185.90 80.55h0M187.40 80.55h0M188.90 80.55h0M190.40 80.55h0M191.90 80.55h0M193.40 80.55h0M194.90 80.55h0M196.40 80.55h0M197.90 80.55h0M199.40 80.55h0M200.90 80.55h0M170.90 79.05h0M172.40 79.05h0M173.90 79.05h0M175.40 79.05h0M176.90 79.05h0M178.40 79.05h0M179.90 79.05h0M181.40 79.05h0M182.90 79.05h0M184.40 79.05h0M185.90 79.05h0M187.40 79.05h0M188.90 79.05h0M190.40 79.05h0M191.90 79.05h0M193.40 79.05h0M194.90 79.05h0M178.90 76.35h0M180.70 76.35h0M182.50 76.35h0M184.30 76.35h0M186.10 76.35h0M187.90 76.35h0M179.80 77.65h0M181.60 77.65h0M183.40 77.65h0M185.20 77.65h0M187.00 77.65h0" stroke-width="1.28" stroke-linecap="round" fill="none"/>
<path d="M180.50 64.50h0M182.50 65.50h0M180.50 66.50h0M183.50 66.50h0M184.50 66.50h0M181.50 67.50h0M184.50 67.50h0M186.50 67.50h0M180.50 69.50h0M183.50 69.50h0M186.50 68.50h0M177.50 70.50h0M179.50 70.50h0M181.50 71.50h0M184.50 71.50h0M185.50 71.50h0M187.50 70.50h0M173.50 72.50h0M175.50 72.50h0M177.50 73.50h0M179.50 73.50h0M181.50 74.50h0M183.50 74.50h0M185.50 74.50h0M187.50 73.50h0M189.50 73.50h0M191.50 72.50h0M192.50 72.50h0M194.50 71.50h0" stroke-width="1.44" stroke-linecap="round" fill="none"/>
<path d="M183.45 25.11h0" stroke-width="1.90" stroke-linecap="round" fill="none"/>
<path d="M220.49 89.07h0M221.99 89.05h0M223.22 89.12h0M224.23 89.15h0M225.52 89.13h0M226.84 89.05h0M228.35 89.23h0M229.47 89.08h0M231.08 89.26h0M232.35 89.13h0M233.89 89.04h0M235.12 89.10h0M235.99 89.06h0M237.39 89.23h0M238.61 89.17h0M240.18 89.12h0M241.43 89.05h0M242.44 89.08h0M244.11 89.13h0M245.19 89.17h0M246.57 89.10h0M248.08 89.20h0M249.05 89.17h0M250.52 89.24h0M251.94 89.10h0M253.39 89.06h0M254.35 89.21h0M255.49 89.15h0M256.72 89.19h0M220.76 87.97h0M222.13 87.91h0M223.32 87.97h0M224.55 87.94h0M226.00 88.06h0M227.08 87.99h0M228.14 88.00h0M229.79 88.07h0M231.19 87.90h0M232.23 87.99h0M233.31 87.94h0M234.70 87.86h0M235.94 88.01h0M237.28 87.89h0M238.73 88.04h0M239.85 87.94h0M241.43 88.04h0M242.89 88.04h0M243.87 87.93h0M245.22 88.04h0M246.87 87.87h0M247.71 87.89h0M249.04 87.95h0M250.55 87.89h0M251.50 87.93h0M253.02 87.97h0M254.67 88.00h0M255.71 87.98h0M257.11 87.84h0M220.84 86.82h0M222.12 86.82h0M223.14 86.73h0M224.26 86.78h0M225.54 86.65h0M226.93 86.67h0M228.30 86.64h0M229.40 86.67h0M230.76 86.72h0M232.02 86.84h0M233.67 86.67h0M234.75 86.71h0M236.12 86.66h0M237.71 86.87h0M238.78 86.75h0M239.85 86.65h0M241.31 86.69h0M242.90 86.67h0M243.71 86.86h0M245.32 86.67h0M246.63 86.64h0M247.92 86.86h0M249.42 86.80h0M250.36 86.72h0M251.60 86.82h0M253.12 86.82h0M254.30 86.68h0M255.89 86.87h0M257.21 86.82h0M220.79 85.61h0M221.74 85.55h0M223.11 85.44h0M224.22 85.50h0M225.66 85.60h0M227.37 85.54h0M228.66 85.67h0M229.97 85.52h0M230.83 85.48h0M232.12 85.48h0M233.67 85.65h0M235.10 85.55h0M236.29 85.62h0M237.25 85.59h0M239.05 85.62h0M240.25 85.54h0M241.21 85.62h0M242.60 85.62h0M244.28 85.53h0M245.24 85.66h0M246.73 85.47h0M247.68 85.47h0M249.44 85.62h0M250.29 85.63h0M252.09 85.59h0M253.01 85.56h0M254.18 85.43h0M255.98 85.59h0M257.02 85.65h0M223.16 84.74h0M226.00 84.58h0M228.25 84.60h0M230.84 84.67h0M233.46 84.63h0M235.98 84.75h0M238.71 84.64h0M241.45 84.75h0M243.95 84.75h0M246.60 84.66h0M249.21 84.53h0M251.76 84.57h0M254.10 84.72h0" stroke-width="1.40" stroke-linecap="round" fill="none"/>
<path d="M234.60 83.25h0M236.40 83.48h0M238.20 83.72h0M240.00 83.95h0M241.80 83.72h0M243.60 83.48h0M245.40 83.25h0M237.00 80.55h0M238.90 80.55h0M240.80 80.55h0" stroke-width="1.44" stroke-linecap="round" fill="none"/>
<path d="M310.40 87.60h0M311.90 87.60h0M313.40 87.60h0M314.90 87.60h0M316.40 87.60h0M317.90 87.60h0M319.40 87.60h0M320.90 87.60h0M322.40 87.60h0M323.90 87.60h0M325.40 87.60h0M302.90 86.00h0M304.40 86.00h0M305.90 86.00h0M307.40 86.00h0M308.90 86.00h0M310.40 86.00h0M311.90 86.00h0M313.40 86.00h0M314.90 86.00h0M316.40 86.00h0M317.90 86.00h0M319.40 86.00h0M320.90 86.00h0M322.40 86.00h0M323.90 86.00h0M325.40 86.00h0M326.90 86.00h0M328.40 86.00h0M329.90 86.00h0M331.40 86.00h0M332.90 86.00h0M301.40 84.40h0M302.90 84.40h0M304.40 84.40h0M305.90 84.40h0M307.40 84.40h0M308.90 84.40h0M310.40 84.40h0M311.90 84.40h0M313.40 84.40h0M314.90 84.40h0M316.40 84.40h0M317.90 84.40h0M319.40 84.40h0M320.90 84.40h0M322.40 84.40h0M323.90 84.40h0M325.40 84.40h0M326.90 84.40h0M328.40 84.40h0M329.90 84.40h0M331.40 84.40h0M332.90 84.40h0M334.40 84.40h0M299.90 82.80h0M301.40 82.80h0M302.90 82.80h0M304.40 82.80h0M305.90 82.80h0M307.40 82.80h0M308.90 82.80h0M310.40 82.80h0M311.90 82.80h0M313.40 82.80h0M314.90 82.80h0M316.40 82.80h0M317.90 82.80h0M319.40 82.80h0M320.90 82.80h0M322.40 82.80h0M323.90 82.80h0M325.40 82.80h0M326.90 82.80h0M328.40 82.80h0M329.90 82.80h0M331.40 82.80h0M332.90 82.80h0M334.40 82.80h0M335.90 82.80h0M299.90 81.20h0M301.40 81.20h0M302.90 81.20h0M304.40 81.20h0M305.90 81.20h0M307.40 81.20h0M308.90 81.20h0M310.40 81.20h0M311.90 81.20h0M313.40 81.20h0M314.90 81.20h0M316.40 81.20h0M317.90 81.20h0M319.40 81.20h0M320.90 81.20h0M322.40 81.20h0M323.90 81.20h0M325.40 81.20h0M326.90 81.20h0M328.40 81.20h0M329.90 81.20h0M331.40 81.20h0M332.90 81.20h0M334.40 81.20h0M335.90 81.20h0M299.90 79.60h0M301.40 79.60h0M302.90 79.60h0M304.40 79.60h0M305.90 79.60h0M307.40 79.60h0M308.90 79.60h0M310.40 79.60h0M311.90 79.60h0M313.40 79.60h0M314.90 79.60h0M316.40 79.60h0M317.90 79.60h0M319.40 79.60h0M320.90 79.60h0M322.40 79.60h0M323.90 79.60h0M325.40 79.60h0M326.90 79.60h0M328.40 79.60h0M329.90 79.60h0M331.40 79.60h0M332.90 79.60h0M334.40 79.60h0M335.90 79.60h0M305.90 78.10h0M307.40 78.10h0M308.90 78.10h0M310.40 78.10h0M311.90 78.10h0M313.40 78.10h0M314.90 78.10h0M316.40 78.10h0M317.90 78.10h0M319.40 78.10h0M320.90 78.10h0M322.40 78.10h0M323.90 78.10h0M325.40 78.10h0M326.90 78.10h0M328.40 78.10h0M329.90 78.10h0M313.90 75.40h0M315.70 75.40h0M317.50 75.40h0M319.30 75.40h0M321.10 75.40h0M322.90 75.40h0M314.80 76.70h0M316.60 76.70h0M318.40 76.70h0M320.20 76.70h0M322.00 76.70h0" stroke-width="1.28" stroke-linecap="round" fill="none"/>
<path d="M316.50 64.50h0M317.50 64.50h0M316.50 65.50h0M318.50 65.50h0M319.50 65.50h0M316.50 66.50h0M319.50 67.50h0M321.50 66.50h0M315.50 68.50h0M318.50 68.50h0M321.50 68.50h0M312.50 69.50h0M314.50 70.50h0M316.50 70.50h0M319.50 70.50h0M320.50 70.50h0M322.50 69.50h0M308.50 71.50h0M310.50 71.50h0M312.50 72.50h0M314.50 72.50h0M316.50 73.50h0M318.50 73.50h0M320.50 73.50h0M322.50 72.50h0M324.50 72.50h0M326.50 71.50h0M327.50 71.50h0M329.50 70.50h0" stroke-width="1.44" stroke-linecap="round" fill="none"/>
<path d="M318.45 24.99h0" stroke-width="1.90" stroke-linecap="round" fill="none"/>
<path d="M355.30 88.20h0M356.60 88.20h0M357.90 88.20h0M359.20 88.20h0M360.50 88.20h0M361.80 88.20h0M363.10 88.20h0M364.40 88.20h0M365.70 88.20h0M367.00 88.20h0M368.30 88.20h0M369.60 88.20h0M370.90 88.20h0M372.20 88.20h0M373.50 88.20h0M374.80 88.20h0M376.10 88.20h0M377.40 88.20h0M378.70 88.20h0M380.00 88.20h0M381.30 88.20h0M382.60 88.20h0M383.90 88.20h0M385.20 88.20h0M386.50 88.20h0M387.80 88.20h0M389.10 88.20h0M390.40 88.20h0M391.70 88.20h0M356.60 87.10h0M357.90 87.10h0M359.20 87.10h0M360.50 87.10h0M361.80 87.10h0M363.10 87.10h0M364.40 87.10h0M365.70 87.10h0M367.00 87.10h0M368.30 87.10h0M369.60 87.10h0M370.90 87.10h0M372.20 87.10h0M373.50 87.10h0M374.80 87.10h0M376.10 87.10h0M377.40 87.10h0M378.70 87.10h0M380.00 87.10h0M381.30 87.10h0M382.60 87.10h0M383.90 87.10h0M385.20 87.10h0M386.50 87.10h0M387.80 87.10h0M389.10 87.10h0M390.40 87.10h0M359.20 86.00h0M360.50 86.00h0M361.80 86.00h0M363.10 86.00h0M364.40 86.00h0M365.70 86.00h0M367.00 86.00h0M368.30 86.00h0M369.60 86.00h0M370.90 86.00h0M372.20 86.00h0M373.50 86.00h0M374.80 86.00h0M376.10 86.00h0M377.40 86.00h0M378.70 86.00h0M380.00 86.00h0M381.30 86.00h0M382.60 86.00h0M383.90 86.00h0M385.20 86.00h0M386.50 86.00h0M387.80 86.00h0M360.50 85.20h0M363.10 85.20h0M365.70 85.20h0M368.30 85.20h0M370.90 85.20h0M373.50 85.20h0M376.10 85.20h0M378.70 85.20h0M381.30 85.20h0M383.90 85.20h0M386.50 85.20h0" stroke-width="1.60" stroke-linecap="round" fill="none"/>
<path d="M443.40 88.05h0M444.90 88.05h0M446.40 88.05h0M447.90 88.05h0M449.40 88.05h0M450.90 88.05h0M452.40 88.05h0M453.90 88.05h0M455.40 88.05h0M456.90 88.05h0M458.40 88.05h0M435.90 86.45h0M437.40 86.45h0M438.90 86.45h0M440.40 86.45h0M441.90 86.45h0M443.40 86.45h0M444.90 86.45h0M446.40 86.45h0M447.90 86.45h0M449.40 86.45h0M450.90 86.45h0M452.40 86.45h0M453.90 86.45h0M455.40 86.45h0M456.90 86.45h0M458.40 86.45h0M459.90 86.45h0M461.40 86.45h0M462.90 86.45h0M464.40 86.45h0M465.90 86.45h0M434.40 84.85h0M435.90 84.85h0M437.40 84.85h0M438.90 84.85h0M440.40 84.85h0M441.90 84.85h0M443.40 84.85h0M444.90 84.85h0M446.40 84.85h0M447.90 84.85h0M449.40 84.85h0M450.90 84.85h0M452.40 84.85h0M453.90 84.85h0M455.40 84.85h0M456.90 84.85h0M458.40 84.85h0M459.90 84.85h0M461.40 84.85h0M462.90 84.85h0M464.40 84.85h0M465.90 84.85h0M467.40 84.85h0M432.90 83.25h0M434.40 83.25h0M435.90 83.25h0M437.40 83.25h0M438.90 83.25h0M440.40 83.25h0M441.90 83.25h0M443.40 83.25h0M444.90 83.25h0M446.40 83.25h0M447.90 83.25h0M449.40 83.25h0M450.90 83.25h0M452.40 83.25h0M453.90 83.25h0M455.40 83.25h0M456.90 83.25h0M458.40 83.25h0M459.90 83.25h0M461.40 83.25h0M462.90 83.25h0M464.40 83.25h0M465.90 83.25h0M467.40 83.25h0M468.90 83.25h0M432.90 81.65h0M434.40 81.65h0M435.90 81.65h0M437.40 81.65h0M438.90 81.65h0M440.40 81.65h0M441.90 81.65h0M443.40 81.65h0M444.90 81.65h0M446.40 81.65h0M447.90 81.65h0M449.40 81.65h0M450.90 81.65h0M452.40 81.65h0M453.90 81.65h0M455.40 81.65h0M456.90 81.65h0M458.40 81.65h0M459.90 81.65h0M461.40 81.65h0M462.90 81.65h0M464.40 81.65h0M465.90 81.65h0M467.40 81.65h0M468.90 81.65h0M432.90 80.05h0M434.40 80.05h0M435.90 80.05h0M437.40 80.05h0M438.90 80.05h0M440.40 80.05h0M441.90 80.05h0M443.40 80.05h0M444.90 80.05h0M446.40 80.05h0M447.90 80.05h0M449.40 80.05h0M450.90 80.05h0M452.40 80.05h0M453.90 80.05h0M455.40 80.05h0M456.90 80.05h0M458.40 80.05h0M459.90 80.05h0M461.40 80.05h0M462.90 80.05h0M464.40 80.05h0M465.90 80.05h0M467.40 80.05h0M468.90 80.05h0M438.90 78.55h0M440.40 78.55h0M441.90 78.55h0M443.40 78.55h0M444.90 78.55h0M446.40 78.55h0M447.90 78.55h0M449.40 78.55h0M450.90 78.55h0M452.40 78.55h0M453.90 78.55h0M455.40 78.55h0M456.90 78.55h0M458.40 78.55h0M459.90 78.55h0M461.40 78.55h0M462.90 78.55h0M446.90 75.85h0M448.70 75.85h0M450.50 75.85h0M452.30 75.85h0M454.10 75.85h0M455.90 75.85h0M447.80 77.15h0M449.60 77.15h0M451.40 77.15h0M453.20 77.15h0M455.00 77.15h0" stroke-width="1.28" stroke-linecap="round" fill="none"/>
<path d="M449.50 64.50h0M450.50 64.50h0M449.50 65.50h0M451.50 66.50h0M452.50 66.50h0M449.50 67.50h0M452.50 67.50h0M454.50 66.50h0M448.50 68.50h0M451.50 68.50h0M454.50 68.50h0M445.50 69.50h0M447.50 70.50h0M449.50 70.50h0M452.50 70.50h0M453.50 70.50h0M455.50 70.50h0M441.50 71.50h0M443.50 72.50h0M445.50 72.50h0M447.50 73.50h0M449.50 73.50h0M451.50 73.50h0M453.50 73.50h0M455.50 73.50h0M457.50 72.50h0M459.50 72.50h0M460.50 71.50h0M462.50 71.50h0" stroke-width="1.44" stroke-linecap="round" fill="none"/>
<path d="M451.45 24.52h0" stroke-width="1.90" stroke-linecap="round" fill="none"/>
<path d="M488.30 88.25h0M490.00 88.25h0M491.70 88.25h0M493.40 88.25h0M495.10 88.25h0M496.80 88.25h0M498.50 88.25h0M500.20 88.25h0M501.90 88.25h0M503.60 88.25h0M505.30 88.25h0M507.00 88.25h0M508.70 88.25h0M510.40 88.25h0M512.10 88.25h0M513.80 88.25h0M515.50 88.25h0M517.20 88.25h0M518.90 88.25h0M520.60 88.25h0M522.30 88.25h0M524.00 88.25h0M525.70 88.25h0" stroke-width="1.32" stroke-linecap="round" fill="none"/>
<path d="M488.80 86.45h0M490.10 86.45h0M491.40 86.45h0M492.70 86.45h0M494.00 86.45h0M495.30 86.45h0M496.60 86.45h0M497.90 86.45h0M499.20 86.45h0M500.50 86.45h0M501.80 86.45h0M503.10 86.45h0M504.40 86.45h0M505.70 86.45h0M507.00 86.45h0M508.30 86.45h0M509.60 86.45h0M510.90 86.45h0M512.20 86.45h0M513.50 86.45h0M514.80 86.45h0M516.10 86.45h0M517.40 86.45h0M518.70 86.45h0M520.00 86.45h0M521.30 86.45h0M522.60 86.45h0M523.90 86.45h0M525.20 86.45h0" stroke-width="1.60" stroke-linecap="round" fill="none"/>
<path d="M497.90 84.95h0M499.20 84.95h0M500.50 84.95h0M501.80 84.95h0M503.10 84.95h0M504.40 84.95h0M505.70 84.95h0M507.00 84.95h0M508.30 84.95h0M509.60 84.95h0M510.90 84.95h0M512.20 84.95h0M513.50 84.95h0M514.80 84.95h0M516.10 84.95h0M497.90 83.85h0M499.20 83.85h0M500.50 83.85h0M501.80 83.85h0M503.10 83.85h0M504.40 83.85h0M505.70 83.85h0M507.00 83.85h0M508.30 83.85h0M509.60 83.85h0M510.90 83.85h0M512.20 83.85h0M513.50 83.85h0M514.80 83.85h0M516.10 83.85h0M497.90 82.75h0M499.20 82.75h0M500.50 82.75h0M501.80 82.75h0M503.10 82.75h0M504.40 82.75h0M505.70 82.75h0M507.00 82.75h0M508.30 82.75h0M509.60 82.75h0M510.90 82.75h0M512.20 82.75h0M513.50 82.75h0M514.80 82.75h0M516.10 82.75h0" stroke-width="1.52" stroke-linecap="round" fill="none"/>
<path d="M493.30 84.25h0M519.00 83.95h0M506.90 80.95h0M506.90 77.85h0M507.20 75.05h0M505.70 73.85h0M504.50 73.05h0" stroke-width="1.80" stroke-linecap="round" fill="none"/>
<path d="M577.40 89.00h0M578.90 89.00h0M580.40 89.00h0M581.90 89.00h0M583.40 89.00h0M584.90 89.00h0M586.40 89.00h0M587.90 89.00h0M589.40 89.00h0M590.90 89.00h0M592.40 89.00h0M569.90 87.40h0M571.40 87.40h0M572.90 87.40h0M574.40 87.40h0M575.90 87.40h0M577.40 87.40h0M578.90 87.40h0M580.40 87.40h0M581.90 87.40h0M583.40 87.40h0M584.90 87.40h0M586.40 87.40h0M587.90 87.40h0M589.40 87.40h0M590.90 87.40h0M592.40 87.40h0M593.90 87.40h0M595.40 87.40h0M596.90 87.40h0M598.40 87.40h0M599.90 87.40h0M568.40 85.80h0M569.90 85.80h0M571.40 85.80h0M572.90 85.80h0M574.40 85.80h0M575.90 85.80h0M577.40 85.80h0M578.90 85.80h0M580.40 85.80h0M581.90 85.80h0M583.40 85.80h0M584.90 85.80h0M586.40 85.80h0M587.90 85.80h0M589.40 85.80h0M590.90 85.80h0M592.40 85.80h0M593.90 85.80h0M595.40 85.80h0M596.90 85.80h0M598.40 85.80h0M599.90 85.80h0M601.40 85.80h0M566.90 84.20h0M568.40 84.20h0M569.90 84.20h0M571.40 84.20h0M572.90 84.20h0M574.40 84.20h0M575.90 84.20h0M577.40 84.20h0M578.90 84.20h0M580.40 84.20h0M581.90 84.20h0M583.40 84.20h0M584.90 84.20h0M586.40 84.20h0M587.90 84.20h0M589.40 84.20h0M590.90 84.20h0M592.40 84.20h0M593.90 84.20h0M595.40 84.20h0M596.90 84.20h0M598.40 84.20h0M599.90 84.20h0M601.40 84.20h0M602.90 84.20h0M566.90 82.60h0M568.40 82.60h0M569.90 82.60h0M571.40 82.60h0M572.90 82.60h0M574.40 82.60h0M575.90 82.60h0M577.40 82.60h0M578.90 82.60h0M580.40 82.60h0M581.90 82.60h0M583.40 82.60h0M584.90 82.60h0M586.40 82.60h0M587.90 82.60h0M589.40 82.60h0M590.90 82.60h0M592.40 82.60h0M593.90 82.60h0M595.40 82.60h0M596.90 82.60h0M598.40 82.60h0M599.90 82.60h0M601.40 82.60h0M602.90 82.60h0M566.90 81.00h0M568.40 81.00h0M569.90 81.00h0M571.40 81.00h0M572.90 81.00h0M574.40 81.00h0M575.90 81.00h0M577.40 81.00h0M578.90 81.00h0M580.40 81.00h0M581.90 81.00h0M583.40 81.00h0M584.90 81.00h0M586.40 81.00h0M587.90 81.00h0M589.40 81.00h0M590.90 81.00h0M592.40 81.00h0M593.90 81.00h0M595.40 81.00h0M596.90 81.00h0M598.40 81.00h0M599.90 81.00h0M601.40 81.00h0M602.90 81.00h0M572.90 79.50h0M574.40 79.50h0M575.90 79.50h0M577.40 79.50h0M578.90 79.50h0M580.40 79.50h0M581.90 79.50h0M583.40 79.50h0M584.90 79.50h0M586.40 79.50h0M587.90 79.50h0M589.40 79.50h0M590.90 79.50h0M592.40 79.50h0M593.90 79.50h0M595.40 79.50h0M596.90 79.50h0M580.90 76.80h0M582.70 76.80h0M584.50 76.80h0M586.30 76.80h0M588.10 76.80h0M589.90 76.80h0M581.80 78.10h0M583.60 78.10h0M585.40 78.10h0M587.20 78.10h0M589.00 78.10h0" stroke-width="1.28" stroke-linecap="round" fill="none"/>
<path d="M583.50 65.50h0M584.50 65.50h0M583.50 66.50h0M585.50 67.50h0M586.50 67.50h0M583.50 68.50h0M586.50 68.50h0M588.50 67.50h0M582.50 69.50h0M585.50 69.50h0M588.50 69.50h0M579.50 70.50h0M581.50 71.50h0M583.50 71.50h0M586.50 71.50h0M587.50 71.50h0M589.50 71.50h0M575.50 72.50h0M577.50 73.50h0M579.50 73.50h0M581.50 74.50h0M583.50 74.50h0M585.50 74.50h0M587.50 74.50h0M589.50 74.50h0M591.50 73.50h0M593.50 73.50h0M594.50 72.50h0M596.50 72.50h0" stroke-width="1.44" stroke-linecap="round" fill="none"/>
<path d="M585.45 25.16h0" stroke-width="1.90" stroke-linecap="round" fill="none"/>
<path d="M623.50 88.90h0M625.00 88.90h0M626.50 88.90h0M628.00 88.90h0M629.50 88.90h0M631.00 88.90h0M632.50 88.90h0M634.00 88.90h0M635.50 88.90h0M637.00 88.90h0M638.50 88.90h0M640.00 88.90h0M641.50 88.90h0M643.00 88.90h0M644.50 88.90h0M646.00 88.90h0M647.50 88.90h0M649.00 88.90h0M650.50 88.90h0M652.00 88.90h0M653.50 88.90h0M655.00 88.90h0M656.50 88.90h0M658.00 88.90h0M659.50 88.90h0M623.50 87.70h0M625.00 87.70h0M626.50 87.70h0M628.00 87.70h0M629.50 87.70h0M631.00 87.70h0M632.50 87.70h0M634.00 87.70h0M635.50 87.70h0M637.00 87.70h0M638.50 87.70h0M640.00 87.70h0M641.50 87.70h0M643.00 87.70h0M644.50 87.70h0M646.00 87.70h0M647.50 87.70h0M649.00 87.70h0M650.50 87.70h0M652.00 87.70h0M653.50 87.70h0M655.00 87.70h0M656.50 87.70h0M658.00 87.70h0M659.50 87.70h0M629.80 89.60h0M631.10 89.60h0M632.40 89.60h0M633.70 89.60h0M635.00 89.60h0M636.30 89.60h0M637.60 89.60h0M638.90 89.60h0M640.20 89.60h0M641.50 89.60h0M642.80 89.60h0M644.10 89.60h0M645.40 89.60h0M646.70 89.60h0M648.00 89.60h0M649.30 89.60h0M650.60 89.60h0M629.80 88.40h0M631.10 88.40h0M632.40 88.40h0M633.70 88.40h0M635.00 88.40h0M636.30 88.40h0M637.60 88.40h0M638.90 88.40h0M640.20 88.40h0M641.50 88.40h0M642.80 88.40h0M644.10 88.40h0M645.40 88.40h0M646.70 88.40h0M648.00 88.40h0M649.30 88.40h0M650.60 88.40h0M629.80 87.20h0M631.10 87.20h0M632.40 87.20h0M633.70 87.20h0M635.00 87.20h0M636.30 87.20h0M637.60 87.20h0M638.90 87.20h0M640.20 87.20h0M641.50 87.20h0M642.80 87.20h0M644.10 87.20h0M645.40 87.20h0M646.70 87.20h0M648.00 87.20h0M649.30 87.20h0M650.60 87.20h0M629.80 86.00h0M631.10 86.00h0M632.40 86.00h0M633.70 86.00h0M635.00 86.00h0M636.30 86.00h0M637.60 86.00h0M638.90 86.00h0M640.20 86.00h0M641.50 86.00h0M642.80 86.00h0M644.10 86.00h0M645.40 86.00h0M646.70 86.00h0M648.00 86.00h0M649.30 86.00h0M650.60 86.00h0" stroke-width="1.48" stroke-linecap="round" fill="none"/>
<path d="M636.30 83.20h0M638.60 84.00h0M640.90 84.50h0M643.20 84.40h0M645.50 83.80h0M647.80 82.80h0" stroke-width="1.44" stroke-linecap="round" fill="none"/>
</g>
</svg>
</body></html>
